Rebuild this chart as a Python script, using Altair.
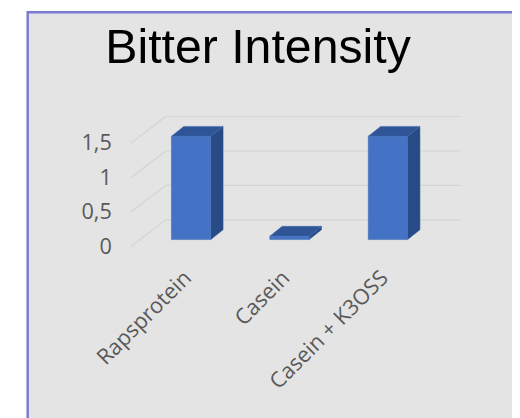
import altair as alt
import pandas as pd

# ---- data ----
categories = ["Rapsprotein", "Casein", "Casein + K3OSS"]
values = [1.5, 0.05, 1.5]
y_ticks = [0, 0.5, 1, 1.5]
title_text = "Bitter Intensity"

# ---- 3D geometry parameters (in data units) ----
half_w = 0.2          # half width of bar front face (category units)
bar_plane = 0.1       # bars sit slightly behind the front wall
depth_dx = 0.125      # bar depth, x direction
depth_dy = 10 / 70    # bar depth, y direction
wall_front_x = -0.61
wall_back_x = -0.26
wall_dy = 27 / 70
grid_right = 2.74

X_DOM = [-0.66, 2.84]
Y_DOM = [2.1 - 162 / 70, 2.1]

xs = alt.Scale(domain=X_DOM, nice=False, zero=False)
ys = alt.Scale(domain=Y_DOM, nice=False, zero=False)

front = pd.DataFrame({
    "cat": categories,
    "x": [i - half_w for i in range(len(categories))],
    "x2": [i + half_w for i in range(len(categories))],
    "y": [bar_plane] * len(categories),
    "y2": [v + bar_plane for v in values],
})

side_rows, top_rows = [], []
for i, (c, v) in enumerate(zip(categories, values)):
    side_rows.append({"cat": c, "x": i + half_w, "y": v + bar_plane, "y2": bar_plane})
    side_rows.append({"cat": c, "x": i + half_w + depth_dx, "y": v + bar_plane + depth_dy,
                      "y2": bar_plane + depth_dy})
    top_rows.append({"cat": c, "y": v + bar_plane, "x": i - half_w, "x2": i + half_w})
    top_rows.append({"cat": c, "y": v + bar_plane + depth_dy, "x": i - half_w + depth_dx,
                     "x2": i + half_w + depth_dx})
side = pd.DataFrame(side_rows)
top = pd.DataFrame(top_rows)

diag = pd.DataFrame({
    "x": [wall_front_x] * len(y_ticks),
    "x2": [wall_back_x] * len(y_ticks),
    "y": y_ticks,
    "y2": [t + wall_dy for t in y_ticks],
})
back = pd.DataFrame({
    "x": [wall_back_x] * len(y_ticks),
    "x2": [grid_right] * len(y_ticks),
    "y": [t + wall_dy for t in y_ticks],
})

label_expr = "[" + ",".join("'" + c + "'" for c in categories) + "][round(datum.value)]"

# background frame (decoration)
frame = alt.Chart(pd.DataFrame({"a": [0]})).mark_rect(
    fill="#e4e4e4", stroke="#7b7bd5", strokeWidth=2.5
).encode(
    x=alt.value(-100), x2=alt.value(420), y=alt.value(-91), y2=alt.value(340)
)

axis_layer = alt.Chart(diag).mark_rule(color="#d4d4d4", strokeWidth=1.2).encode(
    x=alt.X("x:Q", scale=xs, axis=alt.Axis(
        values=list(range(len(categories))), labelExpr=label_expr, labelAngle=-45,
        labelAlign="right", labelBaseline="middle", ticks=False, domain=False, grid=False,
        labelOverlap=False, labelBound=False, labelFlush=False,
        labelPadding=13, labelOffset=-4, labelFont="Open Sans", labelFontSize=22,
        labelColor="#595959", title=None, zindex=1)),
    x2="x2:Q",
    y=alt.Y("y:Q", scale=ys, axis=alt.Axis(
        values=y_ticks, labelExpr="replace(toString(datum.value), '.', ',')", ticks=False,
        domain=False, grid=False, labelPadding=15, labelFont="Open Sans",
        labelOverlap=False, labelFontSize=22, labelColor="#595959", title=None, zindex=1)),
    y2="y2:Q",
)

back_lines = alt.Chart(back).mark_rule(color="#d4d4d4", strokeWidth=1.2).encode(
    x=alt.X("x:Q", scale=xs), x2="x2:Q", y=alt.Y("y:Q", scale=ys)
)

front_face = alt.Chart(front).mark_rect(color="#4472c4", stroke="#3a64b0", strokeWidth=0.5).encode(
    x=alt.X("x:Q", scale=xs), x2="x2:Q", y=alt.Y("y:Q", scale=ys), y2="y2:Q"
)

side_face = alt.Chart(side).mark_area(orient="vertical", color="#284a85", stroke="#335aa0",
                                      strokeWidth=0.5).encode(
    x=alt.X("x:Q", scale=xs), y=alt.Y("y:Q", scale=ys), y2="y2:Q", detail="cat:N"
)

top_face = alt.Chart(top).mark_area(orient="horizontal", color="#2f5597", stroke="#3d67b3",
                                    strokeWidth=0.5).encode(
    y=alt.Y("y:Q", scale=ys), x=alt.X("x:Q", scale=xs), x2="x2:Q", detail="cat:N"
)

chart = alt.layer(frame, axis_layer, back_lines, side_face, top_face, front_face).properties(
    width=350, height=162,
    autosize=alt.AutoSizeParams(type="none"),
    padding={"left": 120, "top": 92, "right": 42, "bottom": 156},
    background="white",
    title=alt.TitleParams(title_text, font="Liberation Sans", fontSize=49, fontWeight="normal",
                          color="black", anchor="middle", frame="group", baseline="alphabetic",
                          offset=-102, dx=-41, zindex=1),
).configure_view(stroke=None)

chart.save("out.html", embed_options={"renderer": "svg", "actions": False})
